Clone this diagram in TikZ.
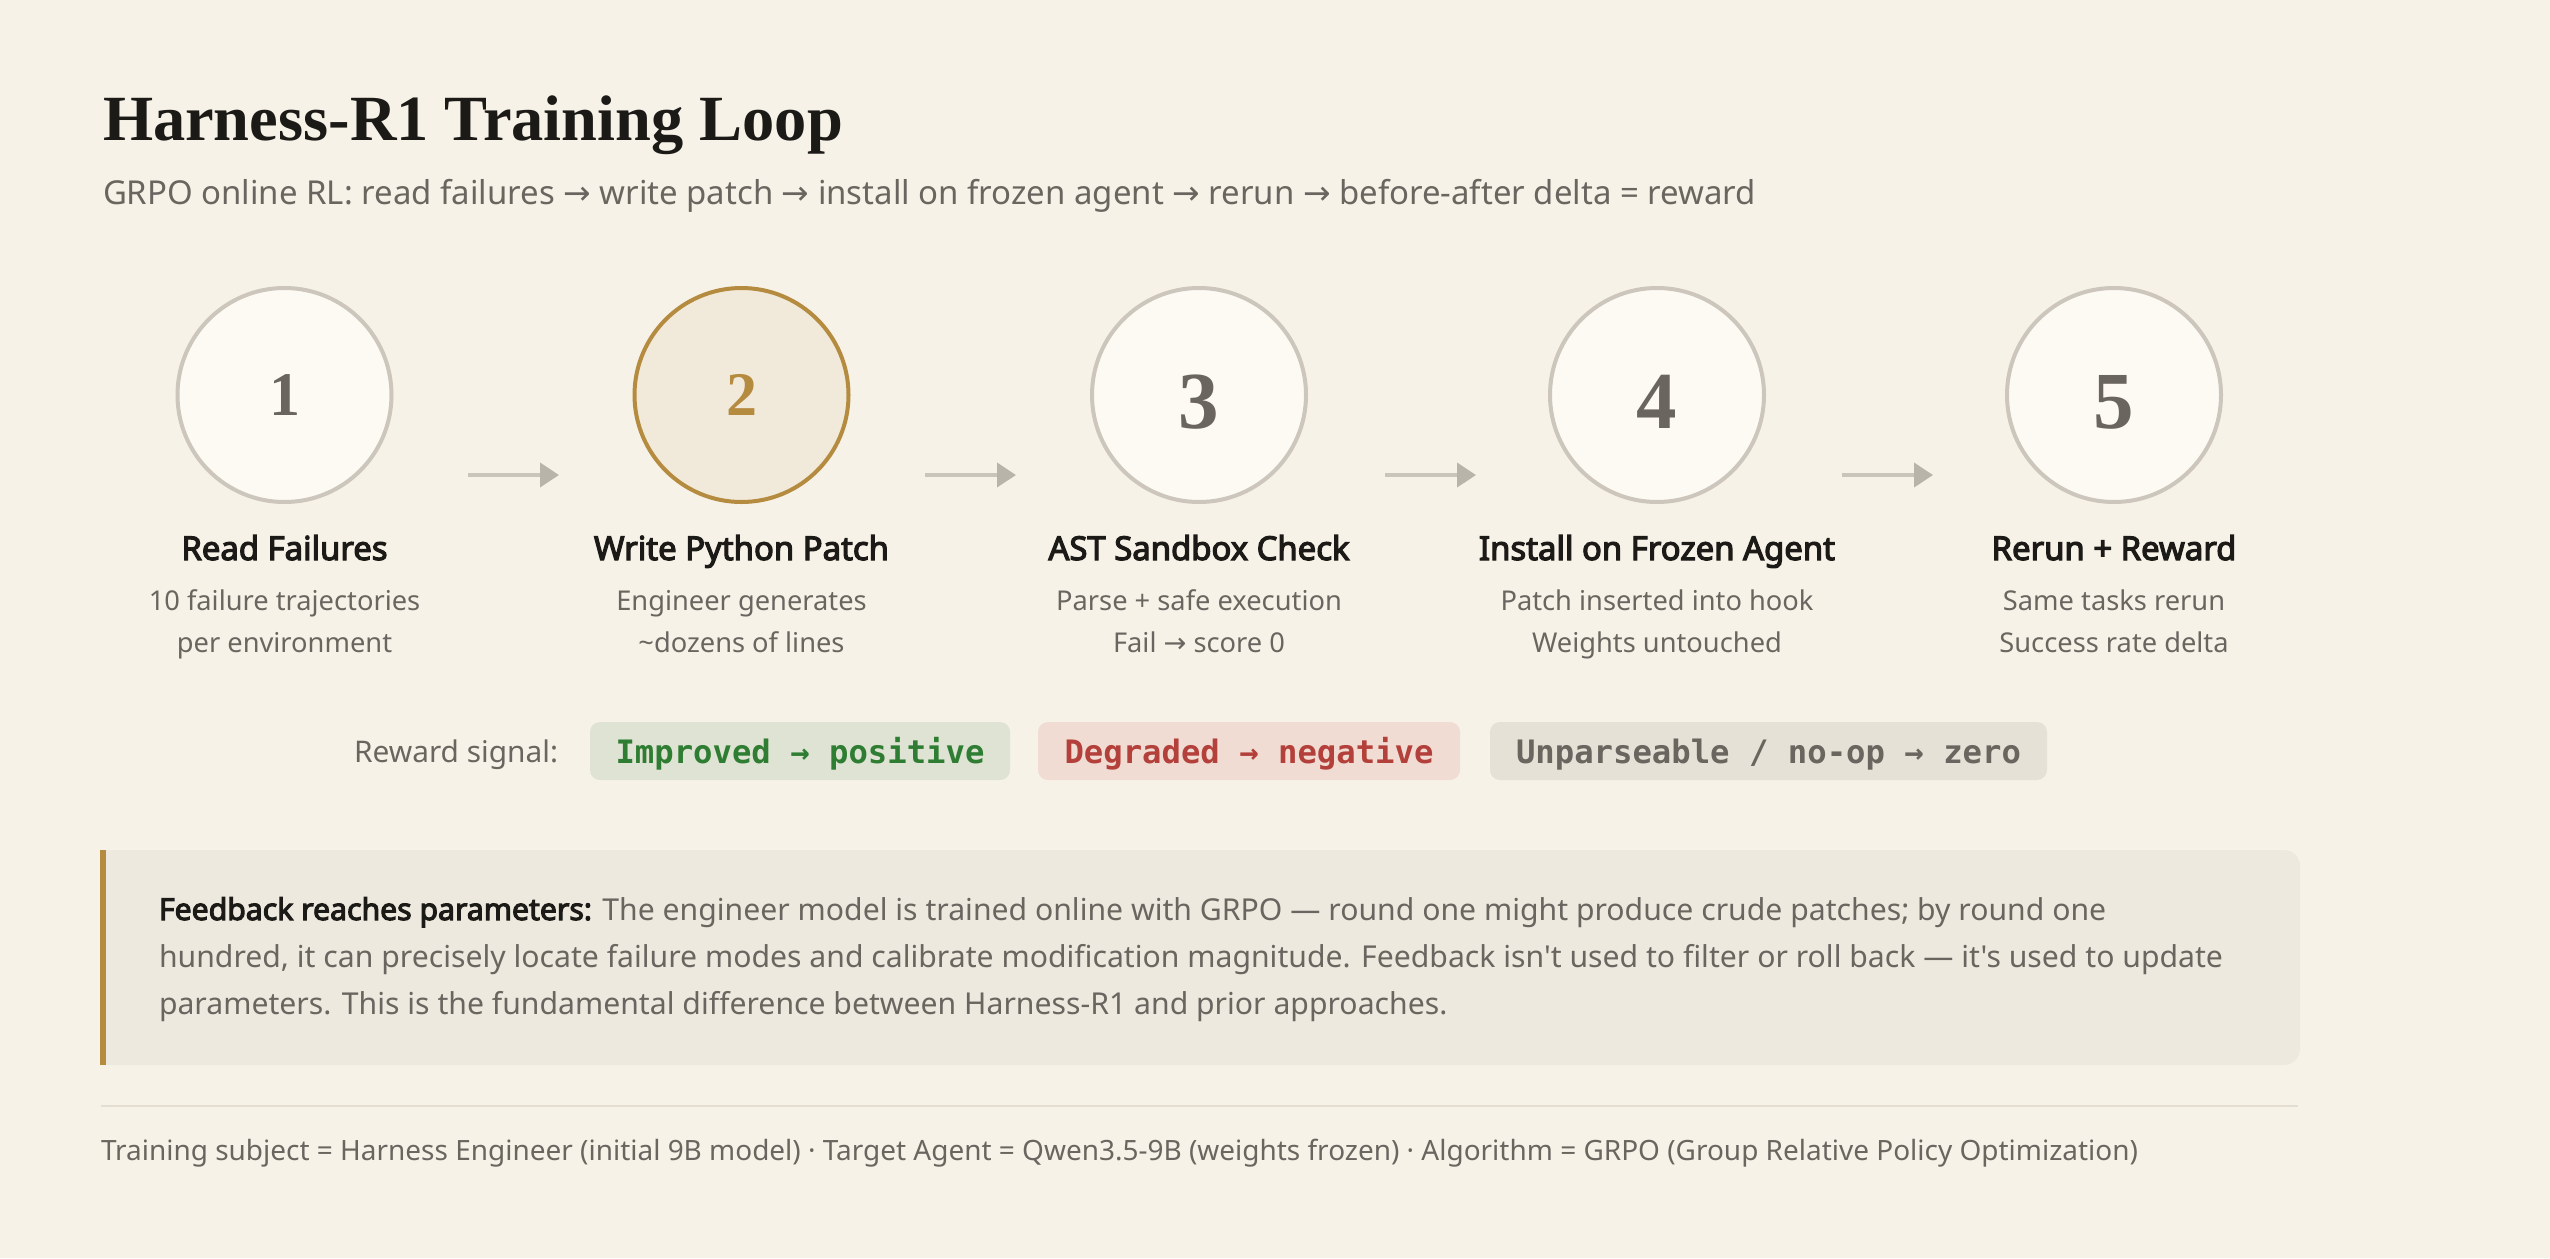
\documentclass[tikz,border=0pt]{standalone}
\usepackage{fontspec}
\newfontfamily\uisans{Noto Sans}
\newfontfamily\uisansB{Noto Sans}[FakeBold=3.6]
\newfontfamily\uiserif{Liberation Serif}
\newfontfamily\uimono{DejaVu Sans Mono}
\newfontfamily\arrfont{DejaVu Sans}
\usetikzlibrary{arrows.meta}

\definecolor{bg}{HTML}{F6F2E8}
\definecolor{ink}{HTML}{1C1A17}
\definecolor{muted}{HTML}{6B6560}
\definecolor{cfill}{HTML}{FDFAF4}
\definecolor{cstroke}{HTML}{CCC6BC}
\definecolor{gfill}{HTML}{F1E9D9}
\definecolor{gold}{HTML}{B58B40}
\definecolor{arrowc}{HTML}{CAC5BB}
\definecolor{arrowh}{HTML}{B9B4AA}
\definecolor{greenbg}{HTML}{DFE3D3}
\definecolor{greentx}{HTML}{2E7D32}
\definecolor{redbg}{HTML}{F0DCD3}
\definecolor{redtx}{HTML}{B3403A}
\definecolor{graybg}{HTML}{E6E1D6}
\definecolor{callbg}{HTML}{EDE9DF}
\definecolor{sepc}{HTML}{E4DED2}

\newcommand\ar{{\arrfont →}}
\newcommand\mar{→}
\newcommand\calcfs[4]{\setbox0=\hbox{\fontsize{10pt}{12pt}\selectfont#3#4}\pgfmathsetmacro#1{#2/\the\wd0*10}}
\newcommand\fsz[1]{\fontsize{#1pt}{#1pt}\selectfont}

\newcommand\subtxt{GRPO online RL: read failures \ar{} write patch \ar{} install on frozen agent \ar{} rerun \ar{} before-after delta = reward}
\newcommand\calltwo{hundred, it can precisely locate failure modes and calibrate modification magnitude. Feedback isn't used to filter or roll back — it's used to update}
\newcommand\foottxt{Training subject = Harness Engineer (initial 9B model) · Target Agent = Qwen3.5-9B (weights frozen) · Algorithm = GRPO (Group Relative Policy Optimization)}

\calcfs\fsTitle{740}{\uiserif\bfseries}{Harness-R1 Training Loop}
\calcfs\fsSub{1653}{\uisans}{\subtxt}
\calcfs\fsStep{356}{\uisansB}{Install on Frozen Agent}
\calcfs\fsDesc{313}{\uisans}{Patch inserted into hook}
\calcfs\fsLab{204}{\uisans}{Reward signal:}
\calcfs\fsPill{369}{\uimono\bfseries}{Improved \mar{} positive}
\calcfs\fsCall{2064}{\uisans}{\calltwo}
\calcfs\fsFoot{2037}{\uisans}{\foottxt}

\begin{document}
\begin{tikzpicture}[x=1pt,y=-1pt,
  txt/.style={inner sep=0pt, outer sep=0pt},
  circ/.style={circle, minimum size=214pt, inner sep=0pt, draw=cstroke, line width=4pt, fill=cfill},
  hcirc/.style={circ, draw=gold, fill=gfill},
  numa/.style={txt, anchor=base, text=muted, font=\uiserif\bfseries\fsz{62}},
  numb/.style={txt, anchor=base, text=muted, font=\uiserif\bfseries\fsz{81}},
  steptitle/.style={txt, anchor=base, text=ink, font=\uisansB\fsz{\fsStep}},
  stepdesc/.style={txt, anchor=base, text=muted, font=\uisans\fsz{\fsDesc}},
  flowarrow/.style={draw=arrowc, line width=4pt, -{Triangle[length=19pt,width=24pt,color=arrowh]}},
  pill/.style={rounded corners=10pt, minimum height=58pt, inner sep=0pt, text height=24pt, text depth=0pt, font=\uimono\bfseries\fsz{\fsPill}},
  calltxt/.style={txt, anchor=base west, text=muted, font=\uisans\fsz{\fsCall}}
]
\fill[bg] (0,0) rectangle (2550,1258);
\useasboundingbox (0,0) rectangle (2550,1258);

% header
\node[txt, anchor=base west, text=ink, font=\uiserif\bfseries\fsz{\fsTitle}] (title) at (103,140) {Harness-R1 Training Loop};
\node[txt, anchor=base west, text=muted, font=\uisans\fsz{\fsSub}] (subtitle) at (103,204) {\subtxt};

% circles
\node[circ]  (c1) at (284.5,395) {};
\node[hcirc] (c2) at (741.5,395) {};
\node[circ]  (c3) at (1199,395) {};
\node[circ]  (c4) at (1657,395) {};
\node[circ]  (c5) at (2114,395) {};

\node[numa] (n1) at (284.5,415) {1};
\node[numa, text=gold] (n2) at (741.5,415) {2};
\node[numb] (n3) at (1199,428) {3};
\node[numb] (n4) at (1657,428) {4};
\node[numb] (n5) at (2114,428) {5};

% arrows
\coordinate (a1s) at (468,475);  \coordinate (a1e) at (559,475);
\coordinate (a2s) at (925,475);  \coordinate (a2e) at (1016,475);
\coordinate (a3s) at (1385,475); \coordinate (a3e) at (1476,475);
\coordinate (a4s) at (1842,475); \coordinate (a4e) at (1933,475);
\draw[flowarrow] (a1s) -- (a1e);
\draw[flowarrow] (a2s) -- (a2e);
\draw[flowarrow] (a3s) -- (a3e);
\draw[flowarrow] (a4s) -- (a4e);

% step texts
\node[steptitle] (t1) at (284.5,560) {Read Failures};
\node[stepdesc] (d1a) at (284.5,610) {10 failure trajectories};
\node[stepdesc] (d1b) at (284.5,652) {per environment};

\node[steptitle] (t2) at (741.5,560) {Write Python Patch};
\node[stepdesc] (d2a) at (741.5,610) {Engineer generates};
\node[stepdesc] (d2b) at (741.5,652) {\textasciitilde dozens of lines};

\node[steptitle] (t3) at (1199,560) {AST Sandbox Check};
\node[stepdesc] (d3a) at (1199,610) {Parse + safe execution};
\node[stepdesc] (d3b) at (1199,652) {Fail \ar{} score 0};

\node[steptitle] (t4) at (1657,560) {Install on Frozen Agent};
\node[stepdesc] (d4a) at (1657,610) {Patch inserted into hook};
\node[stepdesc] (d4b) at (1657,652) {Weights untouched};

\node[steptitle] (t5) at (2114,560) {Rerun + Reward};
\node[stepdesc] (d5a) at (2114,610) {Same tasks rerun};
\node[stepdesc] (d5b) at (2114,652) {Success rate delta};

% reward signal row
\node[txt, anchor=base west, text=muted, font=\uisans\fsz{\fsLab}] (rlab) at (354,762) {Reward signal:};
\node[pill, fill=greenbg, text=greentx, minimum width=420pt] (p1) at (800,751) {Improved \mar{} positive};
\node[pill, fill=redbg, text=redtx, minimum width=422pt] (p2) at (1249,751) {Degraded \mar{} negative};
\node[pill, fill=graybg, text=muted, minimum width=557pt] (p3) at (1768.5,751) {Unparseable / no-op \mar{} zero};

% callout
\fill[callbg, rounded corners=16pt] (100,850) rectangle (2300,1065);
\fill[callbg] (100,850) rectangle (160,1065);
\fill[gold] (100,850) rectangle (106,1065);
\node[calltxt] (l1) at (159,920) {{\uisansB\color{ink}Feedback reaches parameters:} The engineer model is trained online with GRPO — round one might produce crude patches; by round one};
\node[calltxt] (l2) at (159,967) {\calltwo};
\node[calltxt] (l3) at (159,1014) {parameters. This is the fundamental difference between Harness-R1 and prior approaches.};

% footer
\coordinate (sepL) at (101,1106); \coordinate (sepR) at (2298,1106);
\draw[sepc, line width=2pt] (sepL) -- (sepR);
\node[txt, anchor=base west, text=muted, font=\uisans\fsz{\fsFoot}] (foot) at (101,1160) {\foottxt};
\end{tikzpicture}
\end{document}
